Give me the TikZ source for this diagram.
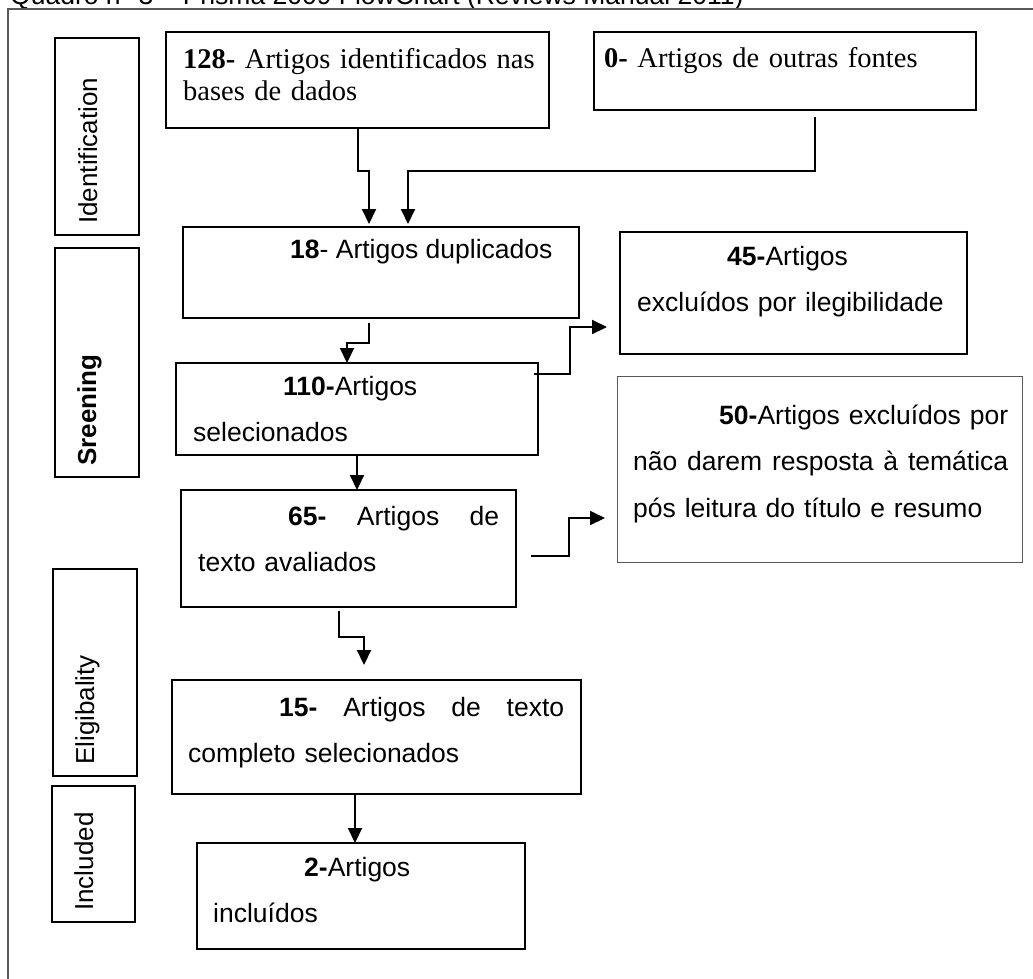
\documentclass[tikz,border=0pt]{standalone}
\usepackage{fontspec}
\setmainfont{Liberation Sans}
\newfontfamily\timesfont{Liberation Serif}
\usetikzlibrary{arrows.meta}

\begin{document}
\begin{tikzpicture}[x=1pt, y=-1pt,
    flowbox/.style={draw, line width=1.9pt, anchor=north west, inner sep=0pt, outer sep=0pt},
    phasetext/.style={rotate=90, anchor=base west, inner sep=0pt, font=\fontsize{26}{30}\selectfont},
    boxtext/.style={anchor=base west, inner sep=0pt, align=left, font=\fontsize{26.5}{46.5}\selectfont},
    serifboxtext/.style={anchor=base west, inner sep=0pt, align=left, font=\timesfont\fontsize{28.5}{32}\selectfont},
    flowarrow/.style={line width=2pt, -{Triangle[length=15pt,width=14pt]}}]
  \useasboundingbox (0,0) rectangle (1033,978);
  \clip (0,0) rectangle (1033,978);

  % caption (cut at the top) and outer frame
  \node[anchor=base west, inner sep=0pt, font=\fontsize{26.5}{30}\selectfont] (caption) at (10,4)
    {Quadro n° 3 – Prisma 2009 FlowChart (Reviews Manual 2011)};
  \draw[black!65, line width=1.5pt] (8,1000) -- (8,9) -- (1050,9);

  % phase labels
  \node[flowbox, minimum width=84pt, minimum height=197pt] (idbox) at (55,38) {};
  \node[flowbox, minimum width=84pt, minimum height=229pt] (srbox) at (55,248) {};
  \node[flowbox, minimum width=84pt, minimum height=207pt] (elbox) at (53,569) {};
  \node[flowbox, minimum width=83pt, minimum height=136pt] (inbox) at (52,786) {};
  \node[phasetext] (idtext) at (97,224) {Identification};
  \node[phasetext, font=\bfseries\fontsize{26}{30}\selectfont] (srtext) at (96,466) {Sreening};
  \node[phasetext] (eltext) at (94,765) {Eligibality};
  \node[phasetext] (intext) at (93,911) {Included};

  % flow boxes
  \node[flowbox, minimum width=383pt, minimum height=96pt] (b128) at (166,32) {};
  \node[flowbox, minimum width=382pt, minimum height=78pt] (b0) at (594,32) {};
  \node[flowbox, minimum width=396pt, minimum height=91pt] (b18) at (183,227) {};
  \node[flowbox, minimum width=347pt, minimum height=122pt] (b45) at (620,232) {};
  \node[flowbox, minimum width=362pt, minimum height=92pt] (b110) at (176,363) {};
  \node[flowbox, minimum width=335pt, minimum height=117pt] (b65) at (181,490) {};
  \node[flowbox, draw=black!65, line width=1pt, minimum width=405pt, minimum height=186pt] (b50) at (617,376) {};
  \node[flowbox, minimum width=409pt, minimum height=114pt] (b15) at (172,680) {};
  \node[flowbox, minimum width=328pt, minimum height=106pt] (b2) at (197,843) {};

  % box texts
  \node[serifboxtext, text width=366pt] (t128) at (183,68)
    {\textbf{128-} Artigos identificados nas\\bases de dados};
  \node[serifboxtext, text width=366pt] (t0) at (604,67) {\textbf{0-} Artigos de outras fontes};
  \node[boxtext] (t18) at (290,258) {\textbf{18}- Artigos duplicados};
  \node[boxtext, text width=320pt] (t45) at (637,265)
    {\hspace*{90pt}\textbf{45-}Artigos\\excluídos por ilegibilidade};
  \node[boxtext, text width=330pt] (t110) at (193,395)
    {\hspace*{90pt}\textbf{110-}Artigos\\selecionados};
  \node[boxtext, text width=301pt] (t65) at (198,525)
    {\hspace*{90pt}\textbf{65-}\hfill Artigos\hfill de\\texto avaliados};
  \node[boxtext, text width=375pt] (t50) at (633,424)
    {\hspace*{86pt}\textbf{50-}Artigos\hfill excluídos\hfill por\\
     não \hfill darem \hfill resposta \hfill à \hfill temática\\
     pós leitura do título e resumo};
  \node[boxtext, text width=376pt] (t15) at (188,716)
    {\hspace*{91pt}\textbf{15-}\hfill Artigos\hfill de\hfill texto\\completo selecionados};
  \node[boxtext, text width=300pt] (t2) at (213,876)
    {\hspace*{91pt}\textbf{2-}Artigos\\incluídos};

  % connectors
  \draw[flowarrow] (b128.south) -- ++(0,43) -| ([xshift=-12pt,yshift=3pt]b18.north);
  \draw[flowarrow] ([xshift=30pt,yshift=-7pt]b0.south) -- ++(0,54) -| ([xshift=27pt,yshift=3pt]b18.north);
  \draw[flowarrow] ([xshift=-12pt,yshift=-5pt]b18.south) -- ++(0,20) -| ([xshift=-10pt]b110.north);
  \draw[flowarrow] ([xshift=-4pt,yshift=-11pt]b110.north east) -- ++(36,0) |- ([xshift=-13pt,yshift=-34pt]b45.west);
  \draw[flowarrow] (b110.south) -- (b110.south |- b65.north);
  \draw[flowarrow] ([xshift=15pt,yshift=-7.5pt]b65.east) -- ++(38,0) |- ([xshift=-12pt,yshift=-49pt]b50.west);
  \draw[flowarrow] ([xshift=-9.5pt,yshift=-4pt]b65.south) -- ++(0,26) -| ([xshift=-12.5pt,yshift=15pt]b15.north);
  \draw[flowarrow] ([xshift=-21.5pt]b15.south) -- ([xshift=-6pt]b2.north);
\end{tikzpicture}
\end{document}
